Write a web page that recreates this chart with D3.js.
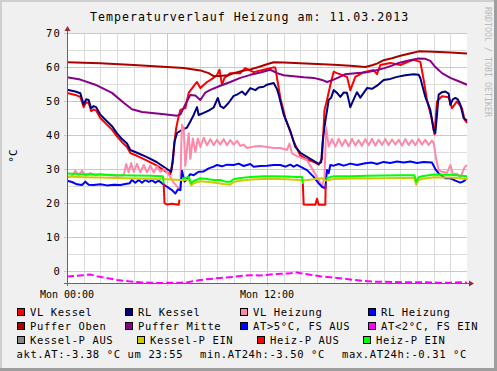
<!DOCTYPE html>
<html><head><meta charset="utf-8">
<script src="https://cdn.jsdelivr.net/npm/d3@7"></script>
<style>body{margin:0;background:#fff}svg{display:block}text{font-family:"DejaVu Sans Mono",monospace}</style>
</head><body><svg id="c" width="497" height="371"></svg>
<script>
// ---------- data (hour of day, °C) ----------
const yTicks = [0, 10, 20, 30, 40, 50, 60, 70];
const xLabels = [[0, "Mon 00:00"], [12, "Mon 12:00"]];
const title = "Temperaturverlauf Heizung am: 11.03.2013";

const vlKessel = [[0,52.4],[0.5,51.8],[0.8,51.2],[1.0,48.2],[1.15,49.6],[1.3,49.4],[1.45,47],[1.6,47.5],[1.75,47.2],[2.0,45],[2.3,43.5],[2.7,41.6],[3.0,39.6],[3.3,37.9],[3.6,36.5],[3.8,34.7],[4.2,33.9],[4.8,32.5],[5.4,31.0],[6.0,29.0],[6.2,28.5],[6.35,32],[6.45,38],[6.55,42],[6.65,44.4],[6.8,47.4],[7.1,47.9],[7.3,52.4],[7.6,54.4],[7.8,55.6],[8.0,53.8],[8.4,55.6],[8.7,56.5],[9.0,57.6],[9.15,59.2],[9.3,54.7],[9.45,56.8],[9.8,58.2],[10.4,58.2],[10.7,59.7],[11.2,58.5],[11.8,59.2],[12.4,59.9],[12.5,59.8],[12.6,56.8],[12.8,50.9],[13.1,45],[13.6,38.1],[14.0,34.0],[14.4,32.8],[14.8,32.1],[15.1,31.3],[15.3,33],[15.45,47.4],[15.6,50.3],[15.8,54.7],[16.0,58.6],[16.2,58.2],[16.8,57.1],[17.0,53.2],[17.3,57.1],[17.8,58.5],[18.4,59.1],[18.6,57.9],[18.8,60.6],[19.4,61.2],[20.0,60.6],[20.5,61.6],[20.8,62.1],[21.2,61.5],[21.4,56.2],[21.6,50.3],[21.9,44.4],[22.05,40.2],[22.2,49.9],[22.5,51.4],[22.9,51.1],[23.1,47.9],[23.4,49.9],[23.7,47.9],[23.85,44.5],[24,43.6]];

const rlKessel = [[0,53.3],[0.5,52.8],[0.8,52.3],[1.0,49.0],[1.15,50.5],[1.3,50.3],[1.45,47.9],[1.6,48.5],[1.75,48.2],[2.0,46.0],[2.3,44.5],[2.7,42.6],[3.0,40.5],[3.3,38.8],[3.6,37.5],[3.8,35.6],[4.2,34.8],[4.8,33.5],[5.4,32.0],[6.0,30.0],[6.25,29.2],[6.35,33],[6.45,38],[6.6,40.6],[6.9,41.5],[7.2,42.2],[7.4,44],[7.6,45.9],[7.8,48.2],[7.9,45.9],[8.2,46.5],[8.5,47.2],[8.8,48.1],[9.05,50.9],[9.2,48.5],[9.4,47.9],[9.7,49.5],[10.0,51.5],[10.2,51.9],[10.5,52.8],[10.7,51.8],[11.0,53.8],[11.3,53.2],[11.5,54.0],[11.8,54.2],[12.0,54.8],[12.4,55.3],[12.6,53.5],[12.7,51.9],[13.0,46],[13.4,41.2],[13.7,36.5],[14.0,34.8],[14.4,33.6],[14.8,32.4],[15.1,31.5],[15.25,32],[15.35,38.5],[15.5,44],[15.7,50.3],[15.85,51],[16.0,53.2],[16.2,52.4],[16.4,51.2],[16.6,52.5],[16.8,52.4],[17.0,48.2],[17.2,50.5],[17.4,52.6],[17.6,51],[18.0,53.8],[18.3,53.6],[18.6,54.5],[19.0,56.2],[19.4,56.5],[19.8,57.1],[20.3,57.6],[20.8,57.9],[21.1,57.7],[21.2,56.8],[21.5,51.2],[21.8,47.4],[22.0,41.5],[22.1,40.6],[22.2,46],[22.3,51.9],[22.5,52.6],[22.7,52.8],[22.9,52.2],[23.0,48.9],[23.15,50.5],[23.3,50.9],[23.45,50.5],[23.6,48.9],[23.8,45],[24,44.2]];

const vlHeizung = [[0,27.5],[0.3,28],[0.5,29.5],[0.7,28.2],[0.9,29.5],[1.1,28],[1.4,28.8],[1.7,28.2],[2.0,28.5],[2.5,28.2],[3.0,28],[3.4,28.2],[3.55,31.5],[3.7,29],[3.85,31.8],[4.0,29.2],[4.2,31.5],[4.4,29],[4.6,31.2],[4.8,29],[5.0,31],[5.2,29],[5.4,30.8],[5.6,29.2],[5.85,30],[6.1,28.5],[6.4,26],[6.8,23.8],[6.85,36],[6.9,43],[7.0,42],[7.1,31],[7.2,36],[7.3,40.5],[7.4,33],[7.55,39],[7.7,35],[7.85,39],[8.0,36.5],[8.2,39.2],[8.4,37],[8.6,38.8],[8.8,37],[9.0,38.6],[9.2,37.2],[9.4,38.8],[9.6,37],[9.8,38.5],[10.0,37.2],[10.2,38.3],[10.4,36.8],[10.6,37.2],[10.8,36.2],[11.2,36.6],[11.6,36.8],[12.0,36.5],[12.4,36.2],[12.8,36.2],[13.2,35.6],[13.35,37.5],[13.5,34.6],[13.8,33.8],[14.1,33.2],[14.4,32.6],[14.7,30.2],[15.0,27.7],[15.3,24.8],[15.45,27.7],[15.55,42.4],[15.7,36.6],[15.9,38.8],[16.1,36.6],[16.3,38.9],[16.5,36.8],[16.7,38.6],[16.9,36.7],[17.1,38.9],[17.3,36.9],[17.5,38.5],[17.7,36.8],[17.9,38.8],[18.1,37.0],[18.3,38.9],[18.5,36.9],[18.7,38.6],[18.9,37.1],[19.1,38.8],[19.3,37.0],[19.5,38.7],[19.7,37.2],[19.9,38.6],[20.1,36.9],[20.3,38.8],[20.5,37.1],[20.7,38.5],[20.9,37.0],[21.1,38.8],[21.3,37.2],[21.5,38.6],[21.7,37.1],[21.9,38.4],[22.0,37.6],[22.15,33],[22.3,29.7],[22.5,29.2],[22.8,28.9],[23.0,31.2],[23.15,28.5],[23.4,28.6],[23.6,27.5],[23.85,30.5],[24,31.2]];

const rlHeizung = [[0,26.6],[0.3,26.2],[0.6,25.5],[0.9,25.3],[1.1,26.3],[1.3,25.4],[1.6,25.3],[2.0,25.5],[2.4,25.2],[2.8,25.4],[3.2,25.3],[3.5,25.6],[3.75,25.8],[3.9,26.8],[4.1,26],[4.3,26.8],[4.5,26],[4.7,26.8],[4.9,26.2],[5.1,26.7],[5.3,26],[5.5,26.6],[5.7,25.8],[6.0,24.8],[6.3,23.8],[6.5,22.8],[6.65,24],[6.8,23.8],[6.9,29.5],[7.05,26.3],[7.15,26.8],[7.4,28.5],[7.6,28.2],[7.9,29.2],[8.2,29.3],[8.5,30.2],[8.8,30.7],[9.0,31.2],[9.3,30.8],[9.6,31.3],[10.0,31.2],[10.3,31.6],[10.6,30.9],[11.0,31.5],[11.2,30.7],[11.6,30.9],[12.0,31.0],[12.4,31.2],[12.8,31.2],[13.1,30.7],[13.4,31.3],[13.6,30.7],[13.8,31.2],[14.0,30.7],[14.4,29.7],[14.8,27.7],[15.1,25.8],[15.3,24.8],[15.5,24.3],[15.6,29.7],[15.7,28.8],[15.8,31.2],[16.0,31.0],[16.3,31.5],[16.6,31.0],[17.0,31.6],[17.4,31.2],[17.9,31.7],[18.3,31.9],[18.6,31.5],[19.0,32.1],[19.4,31.8],[19.8,32.2],[20.2,31.9],[20.6,32.2],[21.0,31.8],[21.4,32.1],[21.9,31.9],[22.1,30],[22.3,28.7],[22.7,27.3],[23.0,27.3],[23.3,26.6],[23.6,26],[23.8,26.4],[24,27.3]];

const pufferOben = [[0,61.4],[2,61.1],[4,60.6],[6,60.0],[7,59.7],[8,59.0],[8.5,58.2],[8.8,57.3],[9.3,57.4],[9.7,57.6],[10,58.2],[10.5,58.8],[11,59.3],[11.5,60.0],[12,60.8],[12.4,61.4],[13,61.3],[14,61.1],[15,60.9],[16,60.7],[17,60.4],[17.9,60.0],[18.3,60.5],[18.6,61.0],[19,62.0],[19.5,62.6],[20,63.3],[20.7,64.1],[21.1,64.6],[22,64.5],[23,64.3],[24,64.0]];

const pufferMitte = [[0,57.0],[0.8,56.3],[1.7,54.8],[2.7,52.4],[3.4,49.5],[3.9,47.6],[4.5,46.8],[5.7,46.2],[6.6,45.7],[6.8,46],[7.1,49],[7.4,51.8],[7.7,51.6],[8.0,50.3],[8.3,52.5],[8.6,53.3],[9.2,54.5],[9.8,55.6],[10.4,56.8],[11,57.7],[11.6,58.4],[12.2,59.2],[12.6,58.2],[13.0,57.6],[13.6,57.3],[14.2,57.0],[14.8,56.8],[15.3,56.2],[15.6,55.6],[16.0,56.3],[16.4,57.2],[16.7,57.9],[17.3,58.2],[17.9,58.4],[18.5,59.0],[19.0,59.6],[19.5,60.4],[19.9,61.2],[20.5,61.9],[21.1,62.5],[21.5,62.4],[21.8,61.8],[22.1,60],[22.5,58.2],[23.0,56.8],[23.5,55.8],[24,54.8]];

const atWarm = []; // AT > 5 °C: no values on this day
const atCold = [[0,-1.6],[0.5,-1.4],[1.0,-1.2],[1.4,-1.0],[1.8,-1.5],[2.3,-2.0],[3.0,-2.6],[3.7,-3.0],[4.4,-3.3],[5.0,-3.4],[5.6,-3.5],[6.3,-3.4],[6.8,-3.4],[7.3,-3.2],[8.0,-2.6],[8.6,-2.3],[9.2,-2.0],[10.0,-1.7],[10.5,-1.4],[11.0,-1.2],[11.6,-1.3],[12.2,-1.0],[12.8,-0.8],[13.3,-0.7],[13.8,-0.4],[14.1,-0.7],[14.6,-1.1],[15.2,-1.5],[15.8,-1.8],[16.4,-2.1],[17.2,-2.6],[17.8,-2.9],[18.4,-3.1],[19.5,-3.2],[20.4,-3.3],[21.5,-3.3],[22.3,-3.4],[23.0,-3.4],[23.6,-3.3],[24,-3.4]];

const kesselPAus = []; // not visible
const kesselPEin = [[0,27.8],[1,27.6],[2,27.5],[3,27.4],[4,27.2],[5,27.1],[6,27.0],[6.8,26.8],[7.0,26.8],[7.3,26.9],[7.45,25.2],[7.6,25.8],[8.0,26.4],[8.5,26.2],[9.0,25.9],[9.5,25.5],[9.8,25.4],[10.0,26.2],[10.3,26.5],[11.0,26.9],[11.8,27.1],[12.5,27.1],[13.2,27.0],[14.0,26.8],[14.1,26.6],[15.3,27.3],[15.55,26.6],[16,27.1],[17,27.2],[18,27.2],[19,27.3],[20,27.4],[20.85,27.4],[20.95,25.4],[21.1,26.8],[21.3,27.1],[22,27.6],[23,27.5],[24,27.1]];

const heizPAus = [[5.8,25.8],[5.85,20.0],[6.0,19.6],[6.3,19.8],[6.7,19.5],[6.75,21.0],[6.76,null],[14.15,25.8],[14.2,19.6],[14.6,19.5],[14.9,19.5],[15.0,21.3],[15.1,19.5],[15.5,19.5],[15.52,25.5]];
const heizPEin = [[0,28.7],[1,28.5],[2,28.4],[3,28.2],[4,28.1],[5,28.0],[5.75,27.9],[5.8,25.8],[5.81,null],[6.9,27.3],[7.1,27.4],[7.3,27.7],[7.45,25.8],[7.6,26.5],[8.0,27.3],[8.5,27],[8.8,26.8],[9.2,26.8],[9.5,26.3],[9.8,26.3],[10.0,27.0],[10.3,27.3],[11.0,27.7],[11.8,27.9],[12.5,27.9],[13.2,27.8],[13.8,27.7],[14.1,27.7],[14.15,25.8],[14.16,null],[15.55,27.3],[16,27.9],[17,27.9],[18,28],[19,28.1],[20,28.2],[20.85,28.2],[20.95,26.3],[21.1,27.6],[21.3,27.9],[22,28.4],[23,28.3],[24,27.9]];

const legendRows = [
  [[17,"VL Kessel","#FF0000"],[125,"RL Kessel","#000080"],[240,"VL Heizung","#FF88AA"],[368,"RL Heizung","#0000FF"]],
  [[17,"Puffer Oben","#AA0000"],[125,"Puffer Mitte","#880088"],[240,"AT>5°C, FS AUS","#0000FF"],[368,"AT<2°C, FS EIN","#FF00FF"]],
  [[17,"Kessel-P AUS","#888888"],[137,"Kessel-P EIN","#CCCC00"],[257,"Heiz-P AUS","#FF0000"],[363,"Heiz-P EIN","#00FF00"]]
];
const statsTexts = [[16.5,"akt.AT:-3.38 °C um 23:55"],[200,"min.AT24h:-3.50 °C"],[342,"max.AT24h:-0.31 °C"]];

// ---------- drawing ----------
const svg = d3.select("#c");
const W = 497, H = 371;
const L = 67, R = 467, T = 33, B = 283;
const x = d3.scaleLinear().domain([0, 24]).range([L, R]);
const y = d3.scaleLinear().domain([-3.5, 70]).range([B, T]);

svg.append("rect").attr("width", W).attr("height", H).attr("fill", "#F0F0F0");
svg.append("rect").attr("x",0).attr("y",0).attr("width",W).attr("height",2).attr("fill","#CFCFCF");
svg.append("rect").attr("x",0).attr("y",0).attr("width",2).attr("height",H).attr("fill","#CFCFCF");
svg.append("rect").attr("x",0).attr("y",H-3).attr("width",W).attr("height",3).attr("fill","#9E9E9E");
svg.append("rect").attr("x",W-3).attr("y",0).attr("width",3).attr("height",H).attr("fill","#9E9E9E");
svg.append("rect").attr("x", L).attr("y", T).attr("width", R - L).attr("height", B - T).attr("fill", "#FFFFFF");

// grid
const g = svg.append("g").attr("shape-rendering", "crispEdges");
const minorH = d3.range(-0, 71, 5).filter(v => v % 10 !== 0);
g.selectAll(".mh").data(minorH).join("line")
  .attr("x1", L).attr("x2", R).attr("y1", d => Math.round(y(d)) + 0.5).attr("y2", d => Math.round(y(d)) + 0.5)
  .attr("stroke", "#DCDCDC").attr("stroke-width", 1);
const minorV = d3.range(1, 24).filter(h => h % 6 !== 0);
g.selectAll(".mv").data(minorV).join("line")
  .attr("y1", T).attr("y2", B).attr("x1", d => Math.round(x(d)) + 0.5).attr("x2", d => Math.round(x(d)) + 0.5)
  .attr("stroke", "#DCDCDC").attr("stroke-width", 1);
g.selectAll(".Mh").data(yTicks).join("line")
  .attr("x1", L - 3).attr("x2", R).attr("y1", d => Math.round(y(d)) + 0.5).attr("y2", d => Math.round(y(d)) + 0.5)
  .attr("stroke", "#F2B8B8").attr("stroke-width", 1);
g.selectAll(".Mv").data([6, 12, 18]).join("line")
  .attr("y1", T).attr("y2", B + 3).attr("x1", d => Math.round(x(d)) + 0.5).attr("x2", d => Math.round(x(d)) + 0.5)
  .attr("stroke", "#F2B8B8").attr("stroke-width", 1);

// tick labels
svg.selectAll(".yl").data(yTicks).join("text")
  .attr("x", 61).attr("y", d => y(d) + 4).attr("text-anchor", "end")
  .attr("font-size", "10.5px").attr("letter-spacing", "1.2px").attr("fill", "#000").text(d => d);
svg.selectAll(".xl").data(xLabels).join("text")
  .attr("x", d => x(d[0])).attr("y", 298).attr("text-anchor", "middle")
  .attr("font-size", "10px").attr("fill", "#000").text(d => d[1]);

// title
svg.append("text").attr("x", 90).attr("y", 21).attr("font-size", "11.6px").attr("letter-spacing", "1px")
  .attr("fill", "#000").text(title);
// unit
svg.append("text").attr("transform", "translate(17,156) rotate(-90)").attr("text-anchor", "middle")
  .attr("font-size", "11px").attr("fill", "#000").text("°C");
// watermark
svg.append("text").attr("transform", "translate(485,62) rotate(90)").attr("text-anchor", "middle")
  .attr("font-size", "8.3px").attr("fill", "#BBBBBB").text("RRDTOOL / TOBI OETIKER");

// series
svg.append("clipPath").attr("id", "clip").append("rect").attr("x", L).attr("y", T - 4).attr("width", R - L + 2).attr("height", B - T + 4);
const plot = svg.append("g").attr("clip-path", "url(#clip)");
const line = d3.line().defined(d => d[1] != null).x(d => x(d[0])).y(d => y(d[1]));
const series = [
  [vlKessel, "#FF0000", null],
  [rlKessel, "#000080", null],
  [vlHeizung, "#FF88AA", null],
  [rlHeizung, "#0000FF", null],
  [pufferOben, "#AA0000", null],
  [pufferMitte, "#880088", null],
  [atWarm, "#0000FF", null],
  [atCold, "#FF00FF", "7,3"],
  [kesselPAus, "#888888", null],
  [kesselPEin, "#CCCC00", null],
  [heizPAus, "#FF0000", null],
  [heizPEin, "#00FF00", null]
];
series.forEach(([data, color, dash]) => {
  if (!data.length) return;
  plot.append("path").datum(data).attr("d", line).attr("fill", "none")
    .attr("stroke", color).attr("stroke-width", 2).attr("stroke-linejoin", "round")
    .attr("stroke-dasharray", dash);
});

// axes with arrows
const ax = svg.append("g").attr("shape-rendering", "crispEdges");
ax.append("line").attr("x1", L - 3).attr("x2", R + 3).attr("y1", B + 0.5).attr("y2", B + 0.5).attr("stroke", "#666").attr("stroke-width", 1);
ax.append("line").attr("x1", L + 0.5).attr("x2", L + 0.5).attr("y1", B + 3).attr("y2", T - 3).attr("stroke", "#666").attr("stroke-width", 1);
svg.append("path").attr("d", `M${R + 2},${B - 2.5}L${R + 7},${B + 0.5}L${R + 2},${B + 3.5}Z`).attr("fill", "#9B2D2D");
svg.append("path").attr("d", `M${L - 2.5},${T - 2}L${L + 0.5},${T - 7}L${L + 3.5},${T - 2}Z`).attr("fill", "#9B2D2D");

// legend
legendRows.forEach((row, i) => {
  const by = 315.5 + i * 14;
  row.forEach(([lx, label, color]) => {
    svg.append("rect").attr("x", lx + 0.5).attr("y", by - 7.5).attr("width", 7).attr("height", 7)
      .attr("fill", color).attr("stroke", "#000").attr("stroke-width", 1).attr("shape-rendering", "crispEdges");
    svg.append("text").attr("x", lx + 13).attr("y", by).attr("font-size", "10.5px").attr("letter-spacing", "0.62px")
      .attr("fill", "#000").text(label);
  });
});
statsTexts.forEach(([sx, t]) => {
  svg.append("text").attr("x", sx).attr("y", 357.5).attr("font-size", "10.5px").attr("letter-spacing", "0.62px")
    .attr("fill", "#000").text(t);
});
</script></body></html>
